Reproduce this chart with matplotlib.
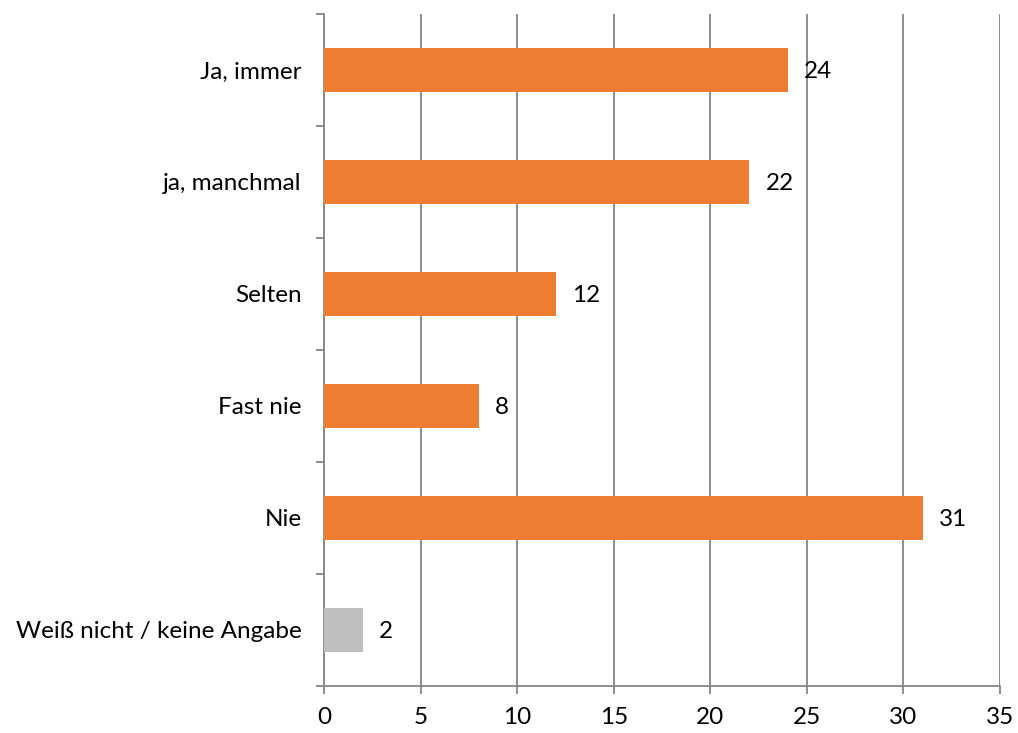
import matplotlib
matplotlib.use('Agg')
import matplotlib.pyplot as plt
import numpy as np

categories=['Ja, immer','ja, manchmal','Selten','Fast nie','Nie','Weiß nicht / keine Angabe']
values=[24,22,12,8,31,2]
colors=['#ED7D31','#ED7D31','#ED7D31','#ED7D31','#ED7D31','#BFBFBF']
xticks=[0,5,10,15,20,25,30,35]

plt.rcParams['font.family']=['Lato','DejaVu Sans']

fig=plt.figure(figsize=(10.18,7.33),dpi=100)
ax=fig.add_axes([324/1018,1-686/733,676/1018,672/733])

y=np.arange(len(categories))
ax.barh(y,values,height=0.4,color=colors,zorder=3)
for yi,v in zip(y,values):
	ax.annotate(str(v),(v,yi),xytext=(12,-1),textcoords='offset points',
		va='center',ha='left',fontsize=17.5,color='black')

ax.set_xlim(0,35)
ax.set_ylim(len(categories)-0.5,-0.5)
ax.set_xticks(xticks)
ax.set_yticks(y)
ax.set_yticklabels(categories,fontsize=17.5)
ax.set_yticks(np.arange(len(categories)+1)-0.5,minor=True)
ax.tick_params(axis='y',which='major',length=0,pad=16)
ax.tick_params(axis='y',which='minor',length=6,width=1.3,color='#868686')
ax.tick_params(axis='x',length=6,width=1.3,color='#868686',labelsize=17.5,pad=9)
ax.grid(axis='x',color='#868686',linewidth=1.3,zorder=0)
ax.set_axisbelow(True)
for s in ['top','right']:
	ax.spines[s].set_visible(False)
for s in ['left','bottom']:
	ax.spines[s].set_color('#868686')
	ax.spines[s].set_linewidth(1.3)

fig.savefig('out.png',dpi=100)
